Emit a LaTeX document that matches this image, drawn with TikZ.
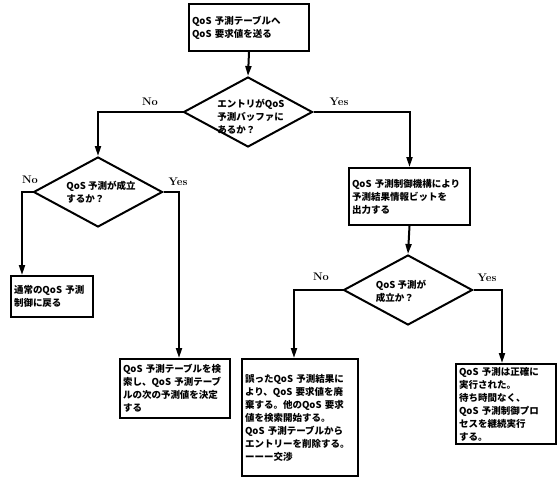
\documentclass[tikz,border=0pt]{standalone}
\usepackage{fontspec}
\newfontfamily\jpfont{Noto Sans CJK JP}
\usetikzlibrary{arrows.meta,shapes.geometric}

\begin{document}
\begin{tikzpicture}[
    x=1pt, y=-1pt,
    >={Triangle[length=10pt,width=6pt]},
    % Process boxes: heavy frame, text set ragged right from the top left.
    box/.style={
        draw,
        line width=2pt,
        anchor=north west,
        inner xsep=3pt,
        inner ysep=2pt,
        align=left,
        font=\jpfont\bfseries\fontsize{9.5}{13}\selectfont
    },
    decision/.style={
        draw,
        shape=diamond,
        line width=2pt,
        inner sep=0pt,
        minimum width=129pt,
        minimum height=70pt
    },
    question/.style={
        align=left,
        inner sep=0pt,
        font=\jpfont\bfseries\fontsize{9.5}{13}\selectfont
    },
    answer/.style={inner sep=0pt, font=\bfseries\fontsize{11}{13}\selectfont},
    flow/.style={->, line width=2pt}
]
    \useasboundingbox (0,0) rectangle (558,477);

    \node[box, text width=114pt, minimum height=47pt] (send) at (188,3)
        {QoS 予測テーブルへ\\QoS 要求値を送る};

    \node[decision] (d1) at (248,112) {};
    \node[question] (d1text) at (251,117)
        {エントリがQoS\\予測バッファに\\あるか？};

    \node[decision] (d2) at (98,192) {};
    \node[question] (d2text) at (101,192)
        {QoS 予測が成立\\するか？};

    \node[box, text width=115pt, minimum height=57pt] (predict) at (348,167)
        {QoS 予測制御機構により\\予測結果情報ビットを\\出力する};

    \node[decision] (d3) at (408,290) {};
    \node[question] (d3text) at (401,291)
        {QoS 予測が\\成立か？};

    \node[box, text width=76pt, minimum height=41pt] (fallback) at (10,275)
        {通常のQoS 予測\\制御に戻る};
    \node[box, text width=104pt, minimum height=59pt] (lookup) at (119,358)
        {QoS 予測テーブルを検\\索し、QoS 予測テーブ\\ルの次の予測値を決定\\する};
    \node[box, text width=110pt, minimum height=117pt] (renegotiate) at (241,358)
        {誤ったQoS 予測結果に\\より、QoS 要求値を廃\\棄する。他のQoS 要求\\値を検索開始する。\\QoS 予測テーブルから\\エントリーを削除する。\\ーーー交渉};
    \node[box, text width=94pt, minimum height=80pt] (proceed) at (455,363)
        {QoS 予測は正確に\\実行された。\\待ち時間なく、\\QoS 予測制御プロ\\セスを継続実行\\する。};

    % Branch answers sit just above the horizontal legs.
    \node[answer] (no1) at (150,102) {No};
    \node[answer] (yes1) at (339,102) {Yes};
    \node[answer] (no2) at (30,180) {No};
    \node[answer] (yes2) at (178,182) {Yes};
    \node[answer] (no3) at (321,277) {No};
    \node[answer] (yes3) at (487,278) {Yes};

    \draw[flow] (send.south) -- (d1.north);
    \draw[flow] (d1.west) -| (d2.north);
    \draw[flow] (d1.east) -| (predict.north);
    \draw[flow] (d2.west) -| ([xshift=12pt]fallback.north west);
    \draw[flow] (d2.east) -| ([xshift=60pt]lookup.north west);
    \draw[flow] (predict.south) -- (d3.north);
    \draw[flow] (d3.west) -| ([xshift=53pt]renegotiate.north west);
    \draw[flow] (d3.east) -| ([xshift=47pt]proceed.north west);
\end{tikzpicture}
\end{document}
